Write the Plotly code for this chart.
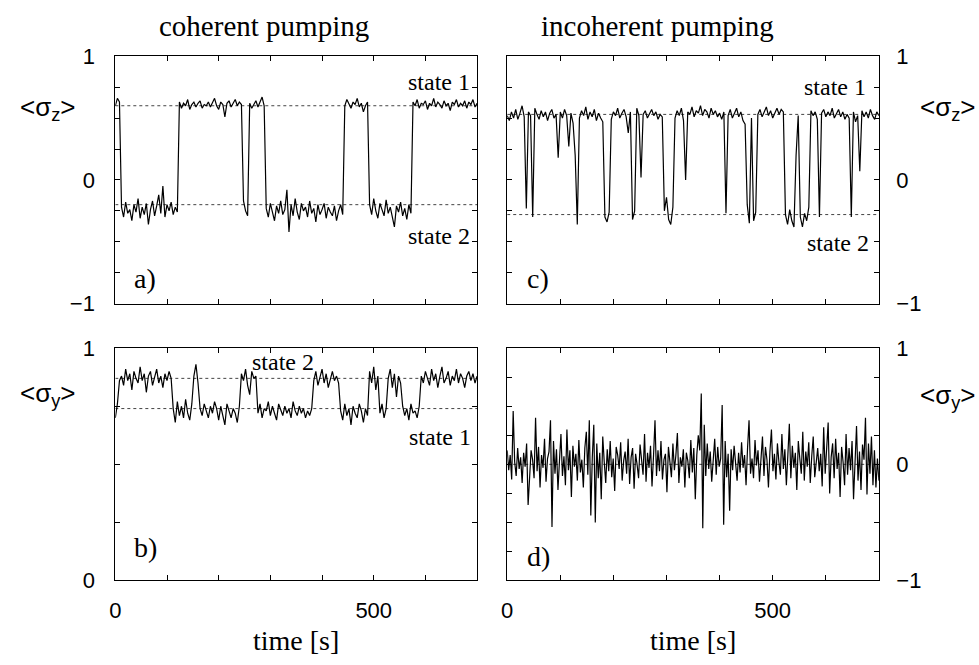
import numpy as np
import plotly.graph_objects as go

# ---------------- data ----------------
# panel a: <sigma_z>, coherent pumping (evenly sampled over 0..700 s)
sz_coherent = (
    [0.60, 0.66, 0.63]
    + [-0.22, -0.30, -0.18, -0.27, -0.24, -0.33, -0.20, -0.26, -0.15, -0.31,
       -0.22, -0.28, -0.19, -0.36, -0.24, -0.17, -0.29, -0.21, -0.12, -0.27,
       -0.05, -0.30, -0.20, -0.25, -0.18, -0.28, -0.22, -0.26]
    + [0.63, 0.58, 0.62, 0.60, 0.65, 0.57, 0.61, 0.63, 0.59, 0.62,
       0.64, 0.58, 0.61, 0.60, 0.63, 0.59, 0.62, 0.66, 0.60, 0.57,
       0.63, 0.61, 0.51, 0.62, 0.64, 0.59, 0.62, 0.65, 0.60, 0.63, 0.61]
    + [-0.17, -0.25, -0.29]
    + [0.62, 0.58, 0.61, 0.64, 0.59, 0.63, 0.67, 0.60]
    + [-0.23, -0.30, -0.19, -0.26, -0.33, -0.21, -0.27, -0.17, -0.28, -0.24,
       -0.08, -0.42, -0.20, -0.29, -0.15, -0.26, -0.32, -0.19, -0.25, -0.22,
       -0.30, -0.17, -0.27, -0.23, -0.34, -0.20, -0.28, -0.24, -0.19, -0.31,
       -0.22, -0.26, -0.29, -0.21, -0.33, -0.25, -0.20, -0.28]
    + [0.60, 0.65, 0.62, 0.58, 0.63, 0.61, 0.66, 0.59, 0.62, 0.55, 0.60, 0.63]
    + [-0.20, -0.28, -0.15, -0.25, -0.31, -0.19, -0.24, -0.29, -0.16, -0.27,
       -0.22, -0.30, -0.38, -0.21, -0.26, -0.18, -0.29, -0.23, -0.32, -0.20, -0.27]
    + [0.63, 0.60, 0.65, 0.58, 0.62, 0.61, 0.64, 0.57, 0.62, 0.60,
       0.66, 0.59, 0.63, 0.61, 0.58, 0.64, 0.60, 0.62, 0.56, 0.63,
       0.61, 0.65, 0.59, 0.62, 0.60, 0.64, 0.58, 0.63, 0.61, 0.65, 0.59, 0.62]
)

# panel c: <sigma_z>, incoherent pumping
sz_incoherent = [
    0.52, 0.48, 0.55, 0.50, 0.57, 0.49, 0.54, 0.60, 0.51, -0.23,
    0.55, 0.52, -0.30, 0.58, 0.53, 0.49, 0.56, 0.51, 0.55, 0.48,
    0.54, 0.57, 0.50, 0.53, 0.18, 0.55, 0.50, 0.57, 0.52, 0.27,
    0.54, 0.46, 0.20, -0.36, 0.50, 0.56, 0.52, 0.59, 0.49, 0.55,
    0.51, 0.57, 0.48, 0.54, 0.50, 0.47, -0.30, -0.34, -0.26, 0.49,
    0.55, 0.52, 0.58, 0.50, 0.54, 0.57, 0.51, 0.38, 0.55, -0.32,
    -0.25, 0.58, 0.52, 0.02, 0.53, 0.56, 0.50, 0.54, 0.57, 0.52,
    0.55, 0.49, 0.53, 0.51, -0.25, -0.14, -0.32, -0.36, -0.22, 0.50,
    0.56, 0.52, 0.58, 0.48, 0.00, 0.55, 0.53, 0.59, 0.51, 0.56,
    0.54, 0.60, 0.52, 0.57, 0.55, 0.50, 0.58, 0.53, 0.56, 0.51,
    0.54, 0.49, 0.55, -0.27, 0.52, 0.57, 0.50, 0.54, 0.58, 0.51,
    0.55, 0.48, 0.45, -0.20, -0.35, 0.50, -0.33, -0.26, 0.53, 0.57,
    0.51, 0.55, 0.59, 0.52, 0.56, 0.50, 0.54, 0.58, 0.53, 0.57,
    0.55, -0.28, -0.36, -0.24, -0.33, -0.38, 0.20, 0.52, -0.30, -0.38,
    -0.27, -0.33, -0.22, 0.56, 0.52, 0.55, 0.49, -0.30, 0.54, 0.57,
    0.51, 0.55, 0.52, 0.58, 0.50, 0.54, 0.57, 0.51, 0.55, 0.49,
    0.53, 0.50, -0.30, 0.55, 0.47, 0.52, 0.07, 0.56, 0.51, 0.55,
    0.50, 0.57, 0.52, 0.49, 0.55, 0.52,
]

# panel b: <sigma_y>, coherent pumping
sy_coherent = (
    [0.70, 0.76, 0.86]
    + [0.88, 0.84, 0.91, 0.86, 0.89, 0.82, 0.90, 0.87, 0.85, 0.92,
       0.86, 0.89, 0.81, 0.88, 0.90, 0.84, 0.87, 0.91, 0.85, 0.88,
       0.83, 0.89, 0.86, 0.90, 0.87]
    + [0.74, 0.68, 0.77, 0.71, 0.75, 0.70, 0.78, 0.72, 0.69, 0.76]
    + [0.88, 0.93, 0.85]
    + [0.74, 0.71, 0.76, 0.73, 0.70, 0.75, 0.72, 0.77, 0.74, 0.69,
       0.75, 0.71, 0.67, 0.76, 0.73, 0.70, 0.74, 0.72, 0.68, 0.75]
    + [0.89, 0.86, 0.91, 0.84, 0.80, 0.90, 0.87, 0.88]
    + [0.72, 0.76, 0.70, 0.74, 0.73, 0.77, 0.71, 0.75, 0.72, 0.69,
       0.76, 0.73, 0.71, 0.75, 0.72, 0.74, 0.70, 0.77, 0.73, 0.71,
       0.75, 0.72, 0.74, 0.70, 0.73, 0.71, 0.74]
    + [0.86, 0.90, 0.84, 0.88, 0.91, 0.85, 0.89, 0.83, 0.87, 0.90, 0.86, 0.88, 0.85]
    + [0.73, 0.69, 0.76, 0.71, 0.74, 0.67, 0.75, 0.72, 0.70, 0.76, 0.73, 0.68, 0.74, 0.71]
    + [0.90, 0.85, 0.92, 0.82, 0.88]
    + [0.72, 0.76, 0.70, 0.74]
    + [0.87, 0.91, 0.83, 0.89, 0.79, 0.88, 0.85]
    + [0.75, 0.71, 0.74, 0.69, 0.76, 0.72, 0.73, 0.70, 0.75]
    + [0.88, 0.85, 0.90, 0.87, 0.84, 0.91, 0.86, 0.89, 0.83, 0.88,
       0.92, 0.85, 0.87, 0.90, 0.84, 0.88, 0.86, 0.91, 0.85, 0.89,
       0.87, 0.83, 0.88, 0.90, 0.86, 0.89, 0.85, 0.88]
)

# panel d: <sigma_y>, incoherent pumping
sy_incoherent = [
    0.12, -0.05, 0.08, -0.13, 0.46, 0.02, -0.10, 0.14, -0.04, 0.06,
    -0.16, 0.10, -0.02, 0.18, -0.35, -0.08, 0.12, 0.04, -0.12, 0.40,
    -0.06, 0.15, -0.20, 0.08, -0.03, 0.22, -0.15, 0.05, 0.11, 0.38,
    -0.54, 0.20, -0.08, 0.13, -0.22, 0.03, 0.26, -0.10, 0.07, -0.18,
    0.30, -0.05, 0.12, -0.28, 0.16, -0.02, 0.09, -0.14, 0.21, -0.07,
    0.04, -0.20, 0.14, 0.28, -0.09, 0.38, -0.44, 0.06, 0.34, -0.50,
    0.18, -0.12, 0.10, -0.30, 0.24, 0.02, -0.16, 0.13, -0.06, 0.20,
    -0.11, 0.05, -0.23, 0.15, 0.08, -0.04, 0.19, -0.14, 0.03, 0.11,
    -0.08, 0.22, -0.17, 0.06, 0.14, -0.21, 0.09, 0.00, -0.12, 0.17,
    0.05, -0.09, 0.26, -0.15, 0.10, -0.03, 0.16, -0.19, 0.07, 0.38,
    -0.10, 0.12, -0.06, 0.20, -0.13, 0.04, 0.09, -0.24, 0.15, 0.01,
    -0.11, 0.18, -0.05, 0.08, 0.27, -0.16, 0.06, -0.02, 0.13, -0.20,
    0.10, 0.03, -0.12, 0.21, -0.07, 0.14, -0.30, 0.08, 0.25, 0.12,
    0.61, -0.55, 0.34, -0.10, 0.18, -0.04, 0.11, -0.15, 0.07, 0.22,
    -0.09, 0.15, -0.02, 0.05, 0.51, -0.52, 0.20, -0.11, 0.09, -0.40,
    0.13, -0.05, 0.16, 0.02, -0.14, 0.10, -0.07, 0.19, -0.03, 0.08,
    -0.18, 0.14, 0.38, -0.08, 0.05, -0.12, 0.21, -0.01, 0.12, -0.15,
    0.07, 0.24, -0.10, 0.15, 0.04, -0.20, 0.11, 0.30, -0.06, 0.09,
    -0.13, 0.18, 0.02, -0.09, 0.26, -0.04, 0.13, -0.18, 0.08, 0.35,
    -0.12, 0.16, -0.03, 0.10, -0.22, 0.20, 0.05, -0.08, 0.28, -0.14,
    0.11, -0.02, 0.19, -0.16, 0.07, 0.24, -0.11, 0.03, 0.14, -0.06,
    0.09, -0.19, 0.32, -0.08, 0.12, 0.36, -0.25, 0.06, 0.18, -0.12,
    0.22, -0.04, 0.10, -0.28, 0.15, 0.02, -0.18, 0.26, -0.09, 0.14,
    -0.05, 0.20, -0.30, 0.08, 0.33, -0.14, 0.11, -0.22, 0.17, 0.04,
    0.40, -0.26, 0.18, -0.08, 0.24, -0.18, 0.12, -0.20, 0.05, -0.14,
]

T_MAX = 700
# dotted reference levels of the two states
levels_a = [0.60, -0.20]
levels_c = [0.53, -0.28]
levels_b = [0.87, 0.74]
levels_d = [0.0]

x_major = [0, 500]
x_minor = [100, 200, 300, 400, 600, 700]
yz_major = [-1, 0, 1]
yz_minor = [-0.75, -0.5, -0.25, 0.25, 0.5, 0.75]
yb_major = [0, 1]
yb_minor = [0.25, 0.5, 0.75]

# ---------------- figure ----------------
W, H = 979, 665
SERIF = "Liberation Serif, Times New Roman, serif"
SANS = "Liberation Sans, Arial, sans-serif"


def dx(p):
    return p / W


def dy(p):
    return 1 - p / H


fig = go.Figure()

panels = [
    ("x", "y", sz_coherent, levels_a),
    ("x2", "y2", sz_incoherent, levels_c),
    ("x3", "y3", sy_coherent, levels_b),
    ("x4", "y4", sy_incoherent, levels_d),
]
for xa, ya, vals, levels in panels:
    t = np.linspace(0, T_MAX, len(vals))
    for lv in levels:
        fig.add_trace(go.Scatter(x=[0, T_MAX], y=[lv, lv], xaxis=xa, yaxis=ya,
                                 mode="lines", line=dict(color="#444", width=1, dash="dot"),
                                 hoverinfo="skip", showlegend=False))
    fig.add_trace(go.Scatter(x=t, y=vals, xaxis=xa, yaxis=ya, mode="lines",
                             line=dict(color="black", width=1.2), showlegend=False))

axis_common = dict(showline=True, linecolor="black", linewidth=1, mirror="ticks",
                   ticks="inside", ticklen=5, tickcolor="black", tickwidth=1,
                   showgrid=False, zeroline=False,
                   tickfont=dict(family=SANS, size=22, color="black"))

L1, R1 = 110, 474
L2, R2 = 504.3, 878.3
T1, B1 = 46, 303
T2, B2 = 349.3, 590.7


def minor(vals):
    return dict(tickmode="array", tickvals=vals, ticks="inside", ticklen=5,
                tickcolor="black", tickwidth=1, showgrid=False)


def xaxis(l, r, labels, anchor):
    return dict(axis_common, domain=[dx(l), dx(r)], range=[0, T_MAX],
                tickmode="array", tickvals=x_major, ticktext=["0", "500"],
                showticklabels=labels, minor=minor(x_minor),
                anchor=anchor, ticklabelstandoff=10)


def yaxis(t, b, rng, major, mnr, tt, side, anchor):
    return dict(axis_common, domain=[dy(b), dy(t)], range=rng,
                tickmode="array", tickvals=major, ticktext=tt, minor=minor(mnr),
                side=side, anchor=anchor,
                ticklabelstandoff=15 if side == "left" else 12)


yz_tt = ["\u22121", "0", "1"]
yb_tt = ["0", "1"]

fig.update_layout(
    width=W, height=H, margin=dict(l=0, r=0, t=0, b=0),
    paper_bgcolor="white", plot_bgcolor="white",
    xaxis=xaxis(L1, R1, False, "y"),
    yaxis=yaxis(T1, B1, [-1, 1], yz_major, yz_minor, yz_tt, "left", "x"),
    xaxis2=xaxis(L2, R2, False, "y2"),
    yaxis2=yaxis(T1, B1, [-1, 1], yz_major, yz_minor, yz_tt, "right", "x2"),
    xaxis3=xaxis(L1, R1, True, "y3"),
    yaxis3=yaxis(T2, B2, [0, 1], yb_major, yb_minor, yb_tt, "left", "x3"),
    xaxis4=xaxis(L2, R2, True, "y4"),
    yaxis4=yaxis(T2, B2, [-1, 1], yz_major, yz_minor, yz_tt, "right", "x4"),
)

ann = []


def txt(text, x, y, size, family=SERIF, xref="paper", yref="paper",
        xanchor="center", yanchor="middle"):
    ann.append(dict(text=text, x=x, y=y, xref=xref, yref=yref, xanchor=xanchor,
                    yanchor=yanchor, showarrow=False,
                    font=dict(family=family, size=size, color="black")))


# column titles
txt("coherent pumping", dx(260), dy(15), 29)
txt("incoherent pumping", dx(656), dy(15), 29)
# x-axis titles
txt("time [s]", dx(292), dy(653), 28)
txt("time [s]", dx(691), dy(653), 28)
# y-axis titles
txt("<\u03c3<sub>z</sub>>", dx(42), dy(100), 26, SANS)
txt("<\u03c3<sub>z</sub>>", dx(948), dy(100), 26, SANS)
txt("<\u03c3<sub>y</sub>>", dx(42), dy(397), 26, SANS)
txt("<\u03c3<sub>y</sub>>", dx(948), dy(400), 26, SANS)
# state labels (data coordinates)
txt("state 1", 690, 0.79, 24, xref="x", yref="y", xanchor="right")
txt("state 2", 690, -0.45, 24, xref="x", yref="y", xanchor="right")
txt("state 1", 680, 0.75, 24, xref="x2", yref="y2", xanchor="right")
txt("state 2", 685, -0.51, 24, xref="x2", yref="y2", xanchor="right")
txt("state 2", 325, 0.94, 24, xref="x3", yref="y3")
txt("state 1", 692, 0.616, 24, xref="x3", yref="y3", xanchor="right")
# panel letters
txt("a)", 33, -0.80, 28, xref="x", yref="y", xanchor="left")
txt("c)", 33, -0.80, 28, xref="x2", yref="y2", xanchor="left")
txt("b)", 33, 0.14, 28, xref="x3", yref="y3", xanchor="left")
txt("d)", 33, -0.79, 28, xref="x4", yref="y4", xanchor="left")

fig.update_layout(annotations=ann)
fig.write_html("out.html")
